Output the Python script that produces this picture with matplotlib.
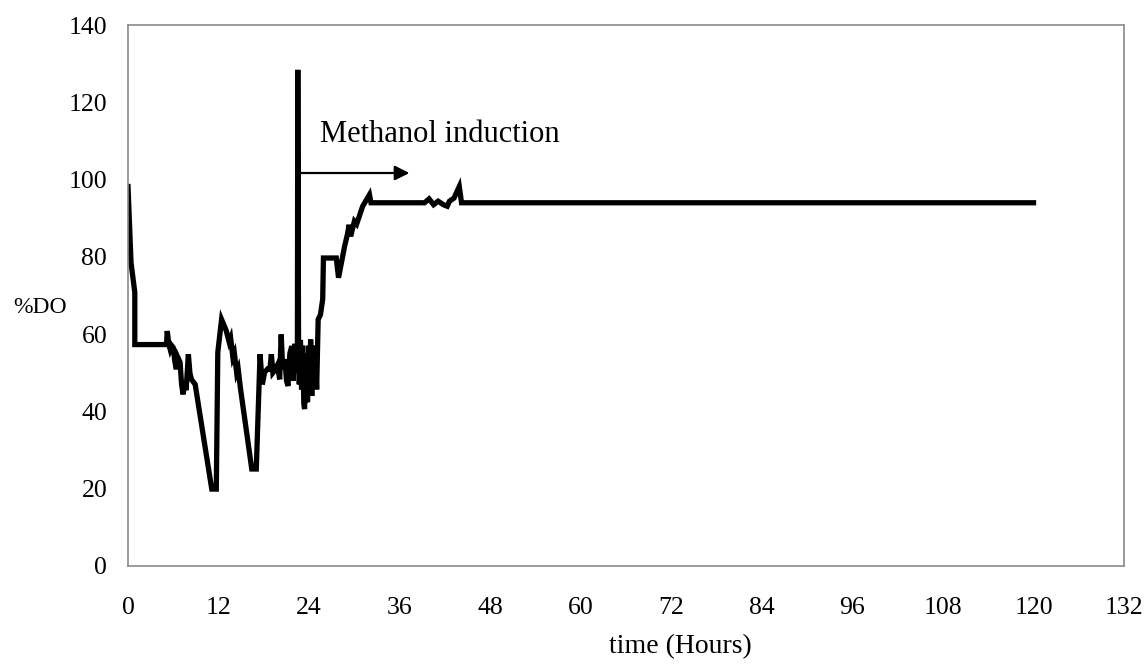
import matplotlib
matplotlib.use("Agg")
import matplotlib.pyplot as plt

plt.rcParams["font.family"] = ["Liberation Serif", "DejaVu Serif"]

# Dissolved oxygen during fermentation (hours, %DO)
hours = [0.0, 0.4, 0.9, 0.9, 5.1, 5.2, 5.4, 5.6, 5.8, 6.0, 6.2, 6.4, 6.6,
         6.9, 7.1, 7.3, 7.5, 7.7, 8.0, 8.2, 8.4, 8.9, 11.1, 11.7, 11.9,
         12.4, 13.0, 13.4, 13.6, 13.9, 14.1, 14.4, 14.6, 14.9, 16.4, 17.0,
         17.5, 17.8, 18.1, 18.5, 18.8, 19.0, 19.2, 19.4, 19.8, 20.1, 20.3,
         20.5, 20.8, 21.0, 21.2, 21.45, 21.7, 21.9, 22.1, 22.3, 22.45, 22.5,
         22.6, 22.7, 22.85, 23.0, 23.15, 23.3, 23.4, 23.55, 23.7, 23.8,
         23.95, 24.1, 24.2, 24.35, 24.5, 24.65, 24.8, 25.0, 25.2, 25.5, 25.8,
         25.9, 27.6, 27.9, 28.7, 29.1, 29.3, 29.5, 30.0, 30.3, 31.1, 32.0,
         32.2, 39.3, 39.9, 40.5, 41.1, 41.8, 42.3, 42.6, 43.2, 43.9, 44.2,
         120.0]
do_pct = [98.2, 78.5, 70.8, 57.3, 57.3, 60.8, 57.5, 56.0, 57.0, 56.5, 53.0,
          50.9, 54.0, 52.7, 47.0, 44.4, 47.5, 45.5, 54.8, 50.0, 48.3, 47.0,
          19.9, 19.9, 55.3, 63.8, 61.0, 58.0, 59.0, 54.0, 55.0, 50.0, 51.0,
          46.0, 25.1, 25.1, 54.8, 47.0, 50.1, 51.0, 50.9, 54.8, 50.0, 50.5,
          52.0, 48.3, 59.9, 51.0, 53.5, 48.0, 46.6, 55.0, 56.9, 48.0, 57.5,
          50.0, 57.0, 128.4, 57.0, 47.0, 58.5, 45.7, 57.0, 42.0, 40.6, 55.0,
          43.0, 42.4, 57.0, 46.0, 58.6, 44.0, 57.0, 46.0, 56.9, 45.7, 63.8,
          65.0, 69.0, 79.7, 79.7, 74.6, 82.7, 86.0, 88.3, 85.3, 89.2, 88.5,
          93.1, 96.1, 94.0, 94.0, 95.0, 93.5, 94.4, 93.5, 93.1, 94.4, 95.2,
          98.2, 94.0, 94.0]

x_ticks = [0, 12, 24, 36, 48, 60, 72, 84, 96, 108, 120, 132]
y_ticks = [0, 20, 40, 60, 80, 100, 120, 140]

induction_start = 22.7
induction_arrow_end = 37.3
induction_level = 101.7
induction_label = "Methanol induction"

fig = plt.figure(figsize=(11.47, 6.69), dpi=100)
ax = fig.add_axes([0.1116, 0.154, 0.8684, 0.8086])

ax.plot(hours, do_pct, color="black", lw=3.8, solid_joinstyle="miter")

ax.annotate("", xy=(induction_arrow_end, induction_level),
            xytext=(induction_start, induction_level),
            arrowprops=dict(arrowstyle="-|>", color="black", lw=1.6,
                            mutation_scale=22, shrinkA=0, shrinkB=0))
ax.text(25.4, 111.6, induction_label, fontsize=22, ha="left", va="center")

ax.set_xlim(0, 132)
ax.set_ylim(0, 140)
ax.set_xticks(x_ticks)
ax.set_yticks(y_ticks)
ax.tick_params(axis="x", length=0, pad=22, labelsize=18.5)
ax.tick_params(axis="y", length=0, pad=15, labelsize=18.5)
for s in ax.spines.values():
    s.set_color("#8a8a8a")
    s.set_linewidth(1.2)

fig.text(0.035, 0.54, "%DO", fontsize=17, ha="center", va="center")
fig.text(0.593, 0.033, "time (Hours)", fontsize=20, ha="center", va="center")

fig.savefig("out.png", dpi=100)
